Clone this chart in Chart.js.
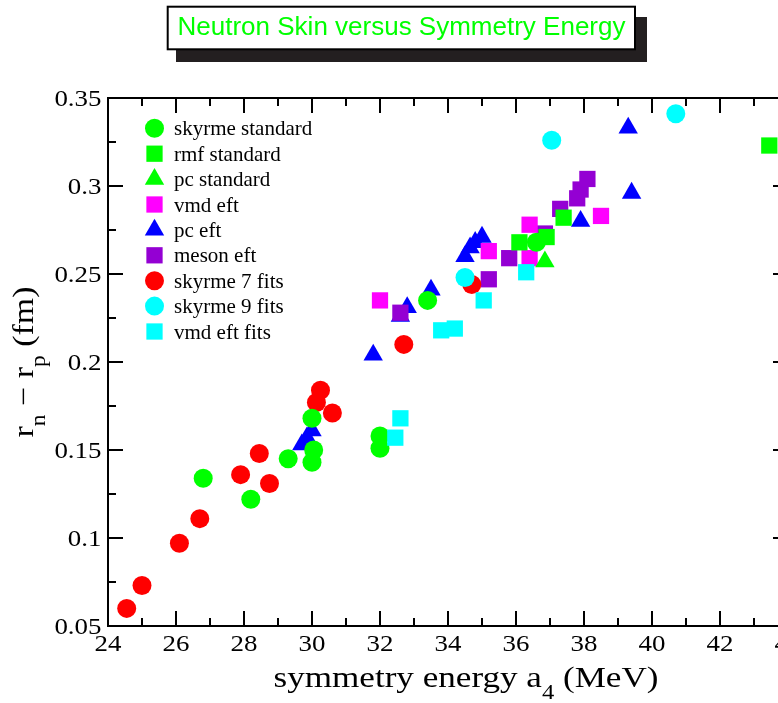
<!DOCTYPE html>
<html>
<head>
<meta charset="utf-8">
<title>Neutron Skin versus Symmetry Energy</title>
<script src="https://cdn.jsdelivr.net/npm/chart.js@4.4.1/dist/chart.umd.min.js"></script>
<style>
	html, body { margin: 0; padding: 0; background: #fff; overflow: hidden; }
	#wrap { width: 800px; height: 703px; }
</style>
</head>
<body>
<div id="wrap"><canvas id="skin" width="800" height="703"></canvas></div>
<script>
// [a4 (MeV), rn - rp (fm)] per model family
const skyrmeStandard = [[26.8, 0.134], [28.2, 0.122], [29.3, 0.145], [30.0, 0.168], [30.05, 0.150], [30.0, 0.143], [32.0, 0.158], [32.0, 0.151], [33.4, 0.235], [36.6, 0.268]];
const rmfStandard = [[36.1, 0.268], [36.9, 0.271], [37.4, 0.282], [43.45, 0.323]];
const pcStandard = [[36.85, 0.257]];
const vmdEft = [[32.0, 0.235], [35.2, 0.263], [36.4, 0.259], [36.4, 0.278], [38.5, 0.283]];
const pcEft = [[29.7, 0.153], [29.85, 0.157], [30.0, 0.161], [31.8, 0.204], [32.6, 0.226], [32.8, 0.231], [33.5, 0.241], [34.5, 0.260], [34.65, 0.265], [34.8, 0.268], [35.0, 0.271], [37.9, 0.280], [39.4, 0.296], [39.3, 0.333]];
const mesonEft = [[32.6, 0.228], [35.2, 0.247], [35.8, 0.259], [36.85, 0.273], [37.3, 0.287], [37.8, 0.293], [37.9, 0.298], [38.1, 0.304]];
const skyrme7Fits = [[24.55, 0.060], [25.0, 0.073], [26.1, 0.097], [26.7, 0.111], [27.9, 0.136], [28.45, 0.148], [28.75, 0.131], [30.13, 0.177], [30.25, 0.184], [30.6, 0.171], [32.7, 0.210], [34.7, 0.244]];
const skyrme9Fits = [[34.5, 0.248], [37.05, 0.326], [40.7, 0.341]];
const vmdEftFits = [[32.45, 0.157], [32.6, 0.168], [33.8, 0.218], [34.2, 0.219], [35.05, 0.235], [36.3, 0.251]];

const seriesNames = ['skyrme standard', 'rmf standard', 'pc standard', 'vmd eft', 'pc eft', 'meson eft', 'skyrme 7 fits', 'skyrme 9 fits', 'vmd eft fits'];
const seriesData = [skyrmeStandard, rmfStandard, pcStandard, vmdEft, pcEft, mesonEft, skyrme7Fits, skyrme9Fits, vmdEftFits];

// styling
const seriesColors = ['#00ff00', '#00ff00', '#00ff00', '#ff00ff', '#0000ff', '#9400d3', '#ff0000', '#00ffff', '#00ffff'];
const seriesShapes = ['circle', 'rect', 'triangle', 'rect', 'triangle', 'rect', 'circle', 'circle', 'rect'];
const drawOrder = [5, 4, 3, 6, 9, 8, 7, 2, 1]; // higher = drawn first
const markerRadius = { circle: 9.5, rect: 11.5, triangle: 11.2 };

const serif = '"Liberation Serif", "Times New Roman", serif';
const stretch = 1.17;

function drawRich(ctx, parts, x, y, size, align) {
	const fontFor = p => (p.sub ? Math.round(size * 0.7) : size) + 'px ' + serif;
	const widths = parts.map(p => { ctx.font = fontFor(p); return ctx.measureText(p.t).width * stretch; });
	const total = widths.reduce((a, b) => a + b, 0);
	let cx = align === 'center' ? x - total / 2 : align === 'right' ? x - total : x;
	parts.forEach((p, i) => {
		ctx.save();
		ctx.font = fontFor(p);
		ctx.textAlign = 'left';
		ctx.textBaseline = 'alphabetic';
		ctx.translate(cx, y + (p.sub ? size * 0.4 : 0));
		ctx.scale(stretch, 1);
		ctx.fillText(p.t, 0, 0);
		ctx.restore();
		cx += widths[i];
	});
}

const titleBox = {
	id: 'titleBox',
	afterDraw(chart) {
		const ctx = chart.ctx;
		ctx.save();
		ctx.fillStyle = '#231f20';
		ctx.fillRect(176, 17, 471, 45);
		ctx.fillStyle = '#fff';
		ctx.fillRect(167.7, 6.7, 467.3, 42.6);
		ctx.lineWidth = 2;
		ctx.strokeStyle = '#000';
		ctx.strokeRect(167.7, 6.7, 467.3, 42.6);
		ctx.fillStyle = '#00ff00';
		ctx.font = '26px "Liberation Sans", Arial, sans-serif';
		ctx.textAlign = 'center';
		ctx.textBaseline = 'alphabetic';
		ctx.fillText('Neutron Skin versus Symmetry Energy', 401.5, 35);
		ctx.restore();
	}
};

// frame with inward ticks on all four sides, tick labels, axis titles
const frame = {
	id: 'frame',
	afterDatasetsDraw(chart) {
		const { ctx, chartArea: a, scales: { x, y } } = chart;
		ctx.save();
		ctx.strokeStyle = '#000';
		ctx.lineWidth = 2;
		ctx.strokeRect(a.left, a.top, a.right - a.left, a.bottom - a.top);
		ctx.beginPath();
		for (let v = x.min; v <= x.max; v += 1) {
			const px = x.getPixelForValue(v);
			const len = v % 2 === 0 ? 15 : 8;
			ctx.moveTo(px, a.bottom); ctx.lineTo(px, a.bottom - len);
			ctx.moveTo(px, a.top); ctx.lineTo(px, a.top + len);
		}
		for (let i = 0; i <= 12; i++) {
			const py = y.getPixelForValue(y.min + i * 0.025);
			const len = i % 2 === 0 ? 15 : 8;
			ctx.moveTo(a.left, py); ctx.lineTo(a.left + len, py);
			ctx.moveTo(a.right, py); ctx.lineTo(a.right - len, py);
		}
		ctx.stroke();

		ctx.fillStyle = '#000';
		x.ticks.forEach(t => {
			drawRich(ctx, [{ t: String(t.value) }], x.getPixelForValue(t.value), a.bottom + 25, 23, 'center');
		});
		y.ticks.forEach(t => {
			const label = String(Number(t.value.toFixed(3)));
			drawRich(ctx, [{ t: label }], a.left - 6.5, y.getPixelForValue(t.value) + 8, 23, 'right');
		});

		drawRich(ctx, [{ t: 'symmetry energy a' }, { t: '4', sub: true }, { t: ' (MeV)' }], 466, 687, 30, 'center');

		ctx.save();
		ctx.translate(33, (a.top + a.bottom) / 2);
		ctx.rotate(-Math.PI / 2);
		drawRich(ctx, [{ t: 'r' }, { t: 'n', sub: true }, { t: ' \u2212 ' }, { t: 'r' }, { t: 'p', sub: true }, { t: ' (fm)' }], 0, 0, 29, 'center');
		ctx.restore();

		// legend
		seriesNames.forEach((name, i) => {
			const cx = a.left + 46.5;
			const cy = a.top + 30.3 + i * 25.4;
			ctx.fillStyle = seriesColors[i];
			Chart.helpers.drawPoint(ctx, { pointStyle: seriesShapes[i], radius: markerRadius[seriesShapes[i]], rotation: 0, borderWidth: 0 }, cx, cy);
			ctx.fillStyle = '#000';
			ctx.font = '21px ' + serif;
			ctx.textAlign = 'left';
			ctx.textBaseline = 'alphabetic';
			ctx.fillText(name, cx + 19.5, cy + 7);
		});
		ctx.restore();
	}
};

const datasets = seriesNames.map((name, i) => ({
	label: name,
	data: seriesData[i].map(([a4, skin]) => ({ x: a4, y: skin })),
	pointStyle: seriesShapes[i],
	pointRadius: markerRadius[seriesShapes[i]],
	pointHoverRadius: markerRadius[seriesShapes[i]],
	backgroundColor: seriesColors[i],
	borderColor: seriesColors[i],
	borderWidth: 0,
	order: drawOrder[i]
}));

const ctx = document.getElementById('skin').getContext('2d');
const chart = new Chart(ctx, {
	type: 'scatter',
	data: { datasets },
	options: {
		responsive: false,
		animation: false,
		devicePixelRatio: 1,
		layout: { padding: { top: 98, right: 12, left: 0, bottom: 0 } },
		plugins: {
			legend: { display: false },
			tooltip: { enabled: false }
		},
		scales: {
			x: {
				type: 'linear',
				min: 24,
				max: 44,
				ticks: { stepSize: 2, display: false },
				grid: { display: false },
				border: { display: false },
				afterFit(scale) { scale.height = 77; }
			},
			y: {
				type: 'linear',
				min: 0.05,
				max: 0.35,
				ticks: { stepSize: 0.05, display: false },
				grid: { display: false },
				border: { display: false },
				afterFit(scale) { scale.width = 108; }
			}
		}
	},
	plugins: [titleBox, frame]
});
</script>
</body>
</html>
